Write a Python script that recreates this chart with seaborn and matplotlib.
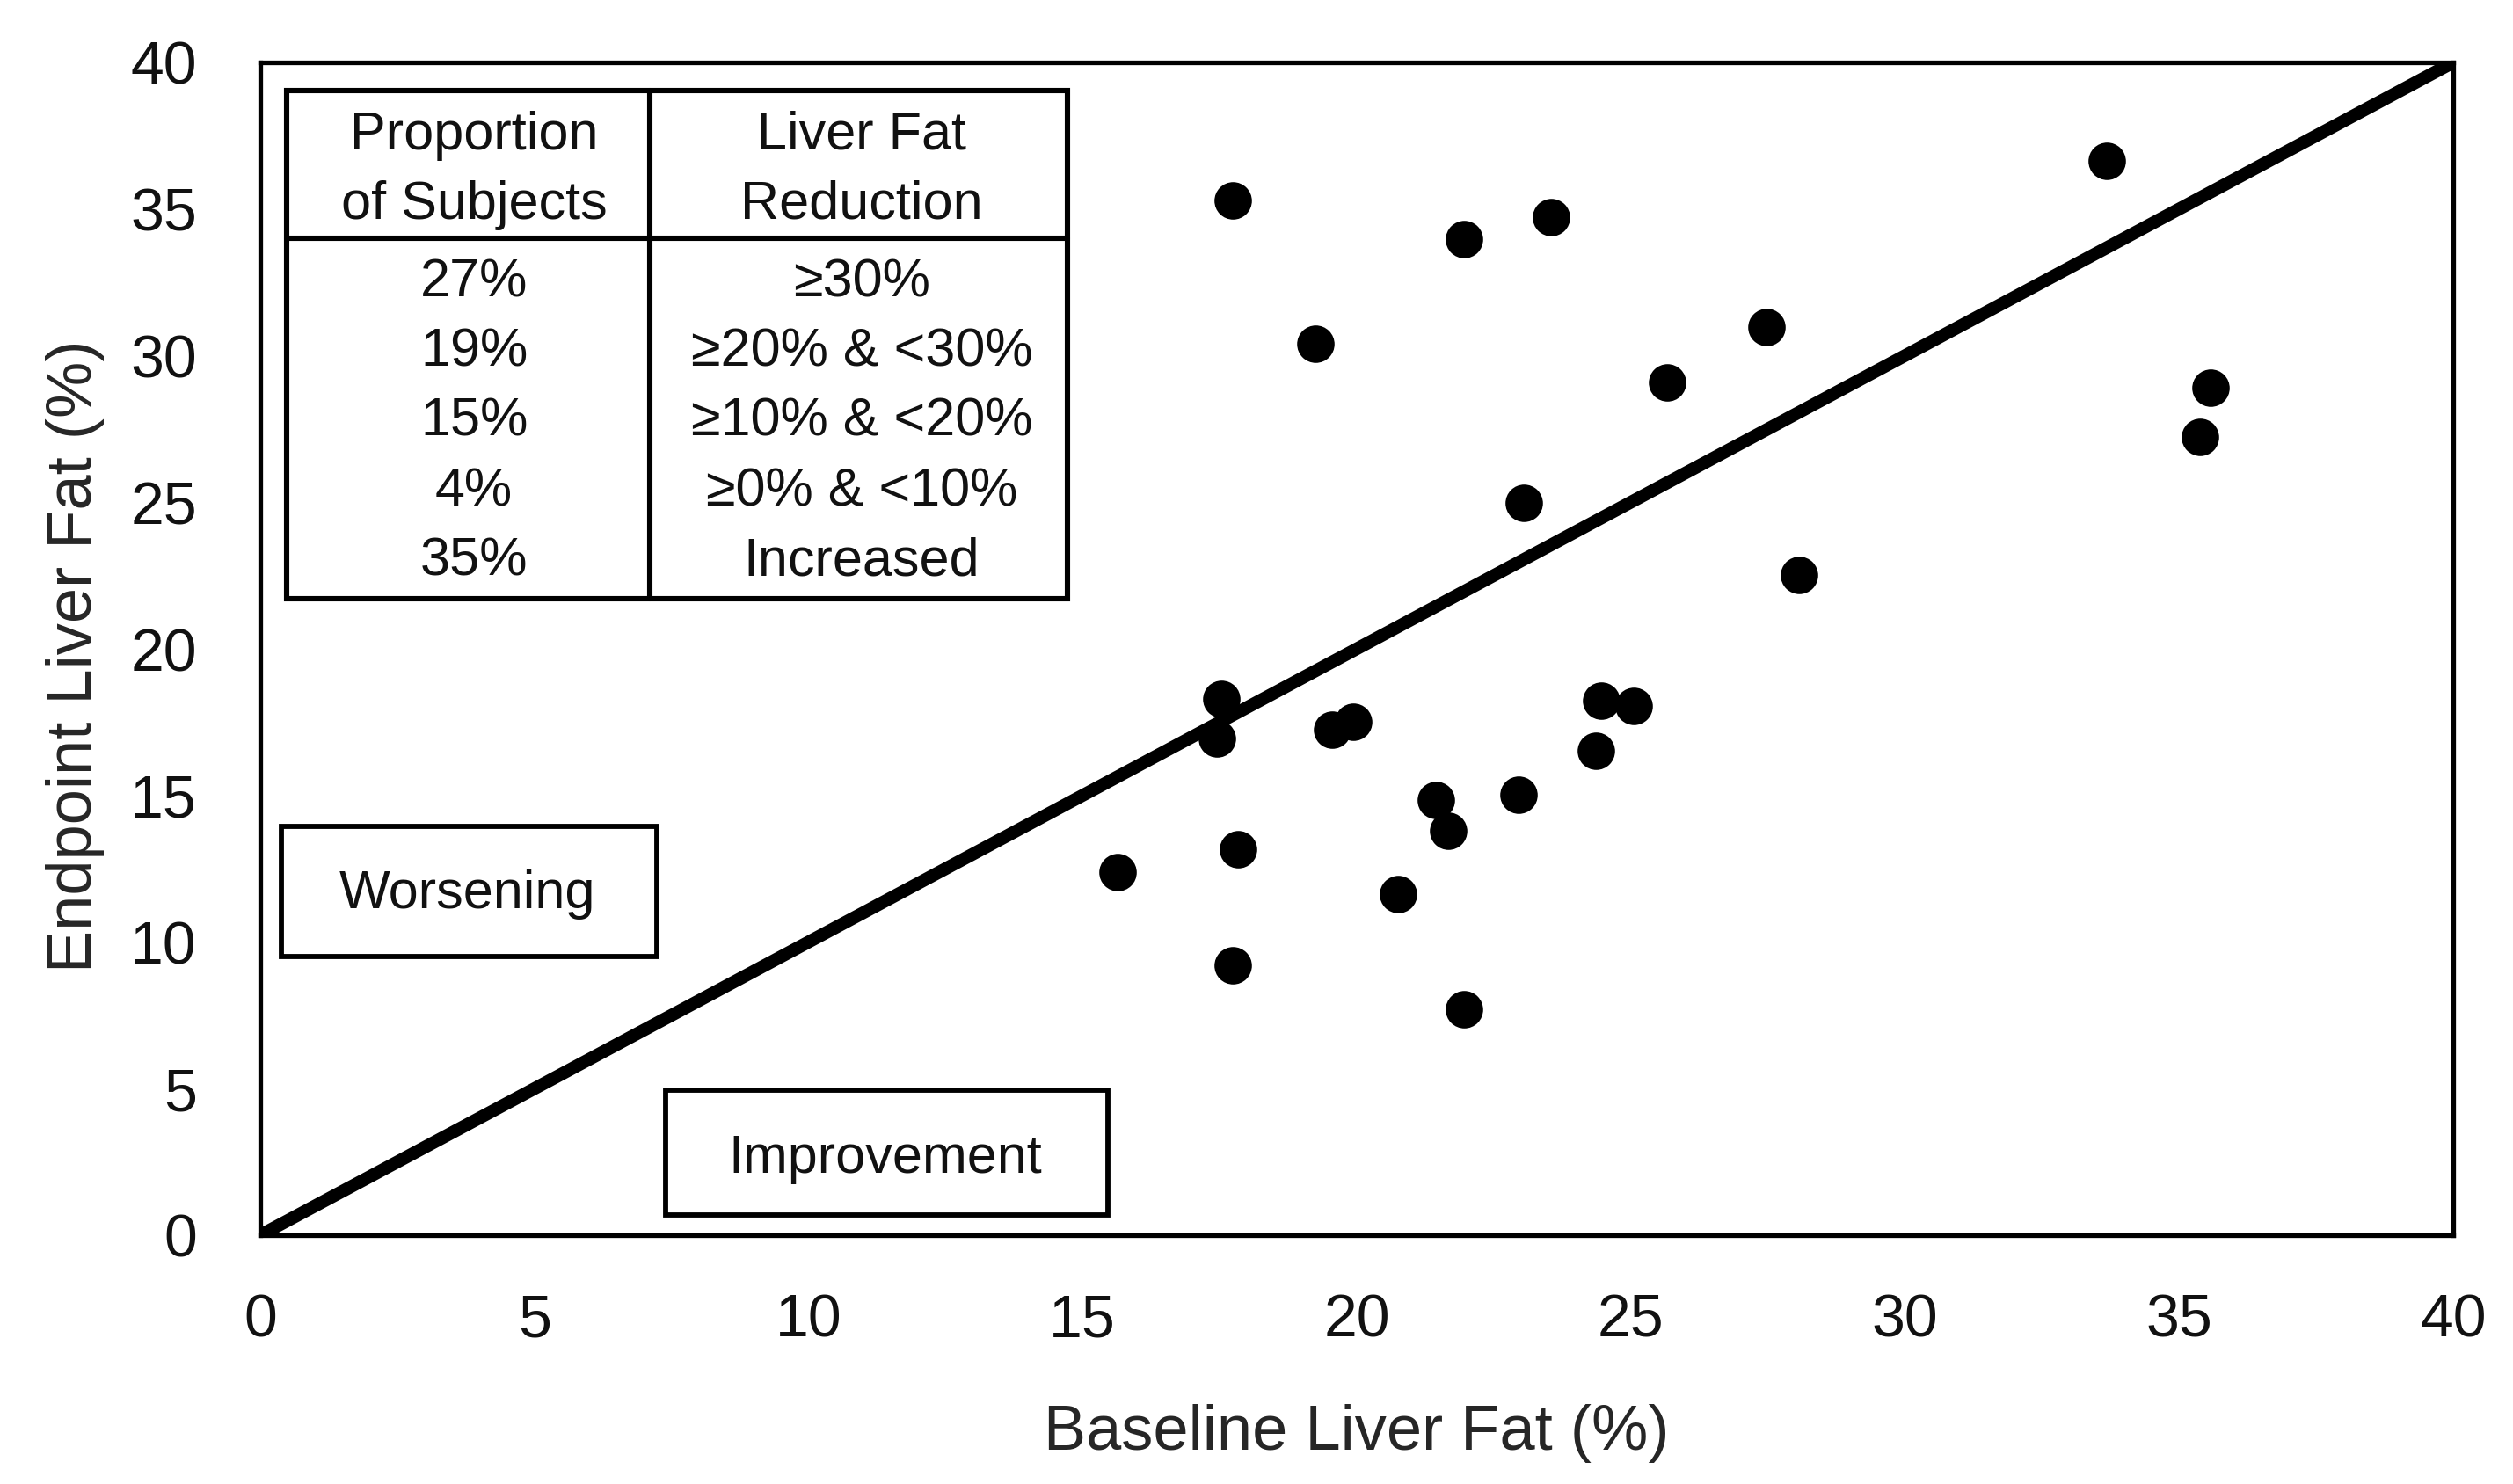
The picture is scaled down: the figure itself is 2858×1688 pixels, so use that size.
import matplotlib
matplotlib.use("Agg")
import matplotlib.pyplot as plt
from matplotlib.patches import Rectangle
from matplotlib.lines import Line2D
import seaborn as sns
import pandas as pd

# ---------------- data ----------------
baseline_fat = [17.74, 21.96, 23.55, 19.24, 27.47, 25.66, 23.05, 28.06, 33.68,
                35.58, 35.38, 17.53, 17.45, 19.55, 19.94, 24.46, 25.06, 24.36,
                21.44, 21.66, 22.95, 17.84, 15.64, 20.75, 17.74, 21.95]
endpoint_fat = [35.29, 33.98, 34.73, 30.40, 30.97, 29.09, 24.97, 22.53, 36.63,
                28.92, 27.23, 18.30, 16.93, 17.25, 17.51, 18.22, 18.04, 16.51,
                14.83, 13.78, 15.01, 13.15, 12.39, 11.64, 9.20, 7.70]
identity_line = [0, 40]

axis_ticks = [0, 5, 10, 15, 20, 25, 30, 35, 40]

header_col1 = ["Proportion", "of Subjects"]
header_col2 = ["Liver Fat", "Reduction"]
proportion_labels = ["27%", "19%", "15%", "4%", "35%"]
reduction_labels = ["≥30%", "≥20% & <30%", "≥10% & <20%", "≥0% & <10%", "Increased"]

x_label = "Baseline Liver Fat (%)"
y_label = "Endpoint Liver Fat (%)"
worse_label = "Worsening"
improve_label = "Improvement"

# ---------------- style ----------------
sns.set_theme(style="white")
plt.rcParams["font.family"] = ["Liberation Sans", "DejaVu Sans"]
plt.rcParams["text.color"] = "#111111"

DPI = 200
fig = plt.figure(figsize=(2858 / DPI, 1688 / DPI), dpi=DPI)
fig.patch.set_facecolor("white")
ax = fig.add_axes([296 / 2858, 1 - 1405 / 1688, (2790 - 296) / 2858, (1405 - 71) / 1688])

df = pd.DataFrame({"baseline": baseline_fat, "endpoint": endpoint_fat})

# identity line
ax.plot(identity_line, identity_line, color="black", lw=5.2,
        solid_capstyle="butt", zorder=2)

sns.scatterplot(data=df, x="baseline", y="endpoint", color="black",
                s=235, linewidth=0, ax=ax, zorder=3, legend=False)

ax.set_xlim(0, 40)
ax.set_ylim(0, 40)
ax.set_xticks(axis_ticks)
ax.set_yticks(axis_ticks)
ax.set_xticklabels([str(t) for t in axis_ticks])
ax.set_yticklabels([str(t) for t in axis_ticks])
ax.tick_params(axis="x", length=0, pad=23.5, labelsize=24.5, colors="#111111")
ax.tick_params(axis="y", length=0, pad=26, labelsize=24.5, colors="#111111")

for sp in ax.spines.values():
    sp.set_visible(True)
    sp.set_color("black")
    sp.set_linewidth(1.9)

ax.set_xlabel(x_label, fontsize=26)
ax.set_ylabel(y_label, fontsize=26)
ax.xaxis.set_label_coords(0.5, -0.144)
ax.yaxis.set_label_coords(-0.071, 0.494)
ax.grid(False)

# ---------------- table ----------------
tbl_lw = 2.2
t_left, t_right, t_top, t_bot = 0.48, 14.72, 39.04, 21.71
t_div, t_hsep = 7.10, 34.0
ax.add_patch(Rectangle((t_left, t_bot), t_right - t_left, t_top - t_bot,
                       fill=False, edgecolor="black", lw=tbl_lw, zorder=4))
ax.add_line(Line2D([t_div, t_div], [t_bot, t_top], color="black", lw=tbl_lw, zorder=4))
ax.add_line(Line2D([t_left, t_right], [t_hsep, t_hsep], color="black", lw=tbl_lw, zorder=4))

c1, c2 = 3.90, 10.97
fs_tbl = 22
head_base = [37.04, 34.67]
for i, (h1, h2) in enumerate(zip(header_col1, header_col2)):
    ax.text(c1, head_base[i], h1, ha="center", va="baseline", fontsize=fs_tbl, zorder=5)
    ax.text(c2, head_base[i], h2, ha="center", va="baseline", fontsize=fs_tbl, zorder=5)

row0, step = 32.02, 2.38
for i, (p, r) in enumerate(zip(proportion_labels, reduction_labels)):
    yb = row0 - i * step
    ax.text(c1, yb, p, ha="center", va="baseline", fontsize=fs_tbl, zorder=5)
    ax.text(c2, yb, r, ha="center", va="baseline", fontsize=fs_tbl, zorder=5)

# ---------------- annotation boxes ----------------
box_lw = 2.1
ax.add_patch(Rectangle((0.38, 9.51), 7.23 - 0.38, 13.94 - 9.51, fill=False,
                       edgecolor="black", lw=box_lw, zorder=4))
ax.text(3.77, 11.15, worse_label, ha="center", va="baseline", fontsize=fs_tbl, zorder=5)

ax.add_patch(Rectangle((7.39, 0.69), 15.46 - 7.39, 4.95 - 0.69, fill=False,
                       edgecolor="black", lw=box_lw, zorder=4))
ax.text(11.40, 2.13, improve_label, ha="center", va="baseline", fontsize=fs_tbl, zorder=5)

fig.savefig("out.png", dpi=DPI, facecolor="white")
